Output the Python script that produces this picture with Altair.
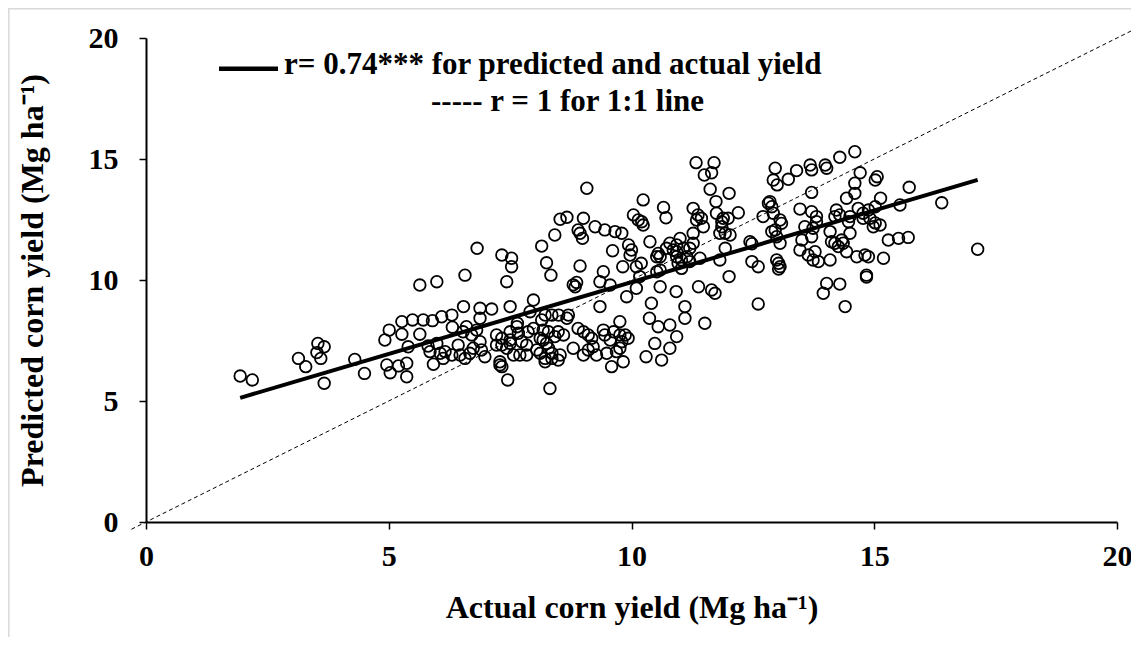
import altair as alt
import pandas as pd

# (actual, predicted) corn yield pairs, Mg/ha, grouped by actual-yield range
band_a = [(1.94, 6.03), (2.19, 5.87), (3.14, 6.76), (3.29, 6.42), (3.54, 7.38), (3.67, 7.24),
          (3.52, 7.00), (3.60, 6.76), (3.67, 5.73), (4.30, 6.72), (4.50, 6.14), (4.92, 7.52),
          (4.96, 6.49)]
band_b = [(5.01, 7.93), (5.03, 6.17), (5.37, 6.56), (5.37, 6.00), (5.20, 6.45), (5.27, 8.28),
          (5.27, 7.76), (5.49, 8.35), (5.64, 7.76), (5.71, 8.35), (5.90, 8.32), (5.64, 9.79),
          (5.99, 9.93), (5.40, 7.24), (5.81, 7.27), (5.92, 6.52), (5.99, 7.38), (5.85, 7.04)]
band_c = [(6.09, 8.48), (6.06, 6.97), (6.30, 8.55), (6.31, 8.05), (6.30, 6.90), (6.57, 10.20),
          (6.54, 8.90), (6.88, 8.83), (6.88, 8.42), (6.60, 8.07), (6.53, 7.86), (6.71, 7.73),
          (6.81, 7.93), (6.16, 7.04), (6.12, 6.76), (6.43, 7.31), (6.47, 6.90), (6.57, 6.76),
          (6.67, 6.97), (6.74, 7.18), (6.88, 7.45), (6.91, 7.11), (6.98, 6.83), (6.82, 11.31)]
band_d = [(7.12, 8.80), (7.33, 11.03), (7.53, 10.90), (7.53, 10.55), (7.43, 9.93), (7.50, 8.90),
          (7.91, 8.69), (7.65, 8.21), (7.45, 5.87), (7.29, 6.49), (7.29, 6.62), (7.22, 7.73),
          (7.33, 7.59), (7.50, 7.86), (7.50, 7.52), (7.64, 8.07), (7.67, 7.80), (7.87, 7.86),
          (7.98, 8.00), (7.22, 7.31), (7.33, 6.42), (7.33, 7.31), (7.43, 7.18), (7.50, 7.38),
          (7.57, 6.90), (7.70, 6.90), (7.84, 6.90), (7.84, 7.31), (7.74, 7.45), (7.98, 9.17)]
band_e = [(8.42, 11.86), (8.15, 11.40), (8.25, 10.71), (8.34, 10.20), (8.36, 8.55), (8.50, 8.55),
          (8.70, 8.55), (8.67, 8.42), (8.15, 8.35), (8.22, 8.55), (8.32, 5.52), (8.53, 12.51),
          (8.67, 12.59), (8.05, 7.11), (8.12, 6.97), (8.22, 6.76), (8.25, 7.38), (8.18, 7.52),
          (8.12, 7.59), (8.18, 7.93), (8.49, 7.86), (8.42, 7.66), (8.60, 7.73), (8.29, 7.86),
          (8.90, 8.00), (8.29, 7.18), (8.36, 6.97), (8.53, 6.90), (8.36, 6.76), (8.49, 6.69),
          (8.22, 6.62), (8.80, 7.18), (8.94, 11.93), (8.90, 12.07), (8.99, 11.72), (8.94, 10.58),
          (8.87, 9.90), (8.84, 9.72), (8.80, 9.80)]
band_f = [(9.08, 13.79), (9.01, 12.55), (9.25, 12.20), (9.45, 12.07), (9.66, 12.00), (9.80, 11.93),
          (9.42, 10.34), (9.35, 9.93), (9.56, 9.79), (9.61, 11.21), (9.94, 11.45), (10.00, 11.24),
          (9.97, 11.03), (9.82, 10.55), (9.90, 9.31), (9.35, 8.90), (9.76, 8.28), (9.59, 6.42),
          (9.83, 6.62), (9.11, 7.73), (9.18, 7.59), (9.42, 7.93), (9.45, 7.73), (9.56, 7.52),
          (9.63, 7.86), (9.76, 7.73), (9.87, 7.73), (9.93, 7.59), (9.80, 7.45), (9.76, 7.18),
          (9.69, 7.04), (9.01, 6.90), (9.11, 7.11), (9.21, 7.24), (9.28, 6.90), (9.49, 6.97),
          (9.01, 7.86)]
band_g = [(10.24, 13.31), (10.66, 13.00), (10.71, 12.57), (10.04, 12.69), (10.14, 12.48),
          (10.21, 12.41), (10.24, 12.27), (10.38, 11.58), (10.10, 10.55), (10.17, 10.14),
          (10.10, 9.66), (10.20, 10.69), (10.52, 10.96), (10.52, 10.34), (10.59, 9.72),
          (10.86, 11.24), (10.93, 10.96), (10.96, 10.69), (10.92, 9.52), (10.41, 9.04),
          (10.37, 8.42), (10.55, 8.07), (10.79, 8.14), (10.93, 7.66), (10.48, 7.38),
          (10.79, 7.18), (10.30, 6.83), (10.62, 6.69), (10.72, 11.31), (10.59, 10.96),
          (10.59, 10.41), (10.79, 11.52), (10.93, 11.17), (10.55, 11.10), (10.93, 11.45)]
band_h = [(11.33, 14.85), (11.70, 14.85), (11.50, 14.34), (11.65, 14.43), (11.62, 13.75),
          (11.74, 13.24), (11.27, 12.96), (11.37, 12.69), (11.44, 12.55), (11.48, 12.20),
          (11.75, 12.76), (11.89, 12.55), (11.99, 12.55), (11.86, 12.20), (11.93, 11.93),
          (12.03, 11.86), (11.27, 11.93), (11.27, 11.52), (11.00, 11.72), (11.03, 10.83),
          (11.20, 10.76), (11.41, 10.90), (11.10, 8.90), (11.10, 8.42), (11.51, 8.21),
          (11.38, 9.72), (11.65, 9.59), (11.72, 9.45), (11.82, 10.83), (11.93, 11.31),
          (12.01, 13.58), (12.01, 10.14), (11.07, 11.31), (11.20, 11.31), (11.14, 10.96),
          (11.03, 10.48), (11.34, 12.48), (11.86, 12.41), (11.82, 11.93)]
band_i = [(12.20, 12.78), (12.44, 11.58), (12.48, 11.50), (12.48, 10.76), (12.61, 10.55),
          (12.61, 9.01), (12.71, 12.62), (12.85, 13.24), (12.89, 13.03), (12.96, 14.62),
          (12.92, 14.13), (13.00, 13.93), (13.06, 12.48), (13.09, 12.34), (12.99, 11.79),
          (12.96, 12.07), (13.06, 11.52), (13.03, 10.69), (13.06, 10.55), (13.03, 10.45),
          (12.89, 12.00), (12.99, 10.83), (12.82, 13.17), (12.92, 12.76)]
band_j = [(13.23, 14.16), (13.40, 14.52), (13.68, 14.75), (13.71, 14.55), (13.99, 14.75),
          (14.02, 14.62), (13.71, 13.62), (13.47, 12.93), (13.71, 12.82), (13.81, 12.62),
          (13.81, 12.41), (13.57, 12.20), (13.74, 12.14), (13.71, 11.79), (13.51, 11.65),
          (13.47, 11.24), (13.64, 11.03), (13.78, 11.17), (13.74, 10.83), (13.85, 10.76),
          (13.95, 9.45), (14.02, 9.86), (14.29, 9.83)]
band_k = [(14.09, 10.83), (14.09, 12.00), (14.12, 11.58), (14.19, 11.52), (14.33, 11.65),
          (14.36, 11.52), (14.26, 11.38), (14.22, 12.89), (14.29, 12.69), (14.19, 12.62),
          (14.50, 12.62), (14.67, 12.96), (14.77, 12.76), (14.88, 12.89), (14.77, 12.55),
          (14.91, 12.55), (14.50, 11.93), (14.43, 11.17), (14.64, 10.96), (14.81, 11.03),
          (14.88, 10.96), (14.43, 13.38), (14.60, 13.58), (14.29, 15.07), (14.60, 15.30),
          (14.71, 14.43), (14.60, 14.00), (14.40, 8.90), (14.84, 10.20), (14.84, 10.12),
          (14.47, 12.41), (14.98, 12.20), (15.12, 12.27)]
band_l = [(15.02, 14.13), (15.06, 14.27), (15.13, 13.38), (15.02, 13.03), (15.53, 13.10),
          (15.02, 12.36), (15.19, 10.90), (15.29, 11.65), (15.50, 11.72), (15.70, 11.76),
          (15.72, 13.83), (16.39, 13.19), (17.13, 11.27)]

one_to_one = [-0.3, 20.7]
axis_ticks = [0, 5, 10, 15, 20]
legend_text = ["r= 0.74*** for predicted and actual yield", "-----  r = 1 for 1:1 line"]
x_title = "Actual corn yield (Mg ha\u207b\u00b9)"
y_title = "Predicted corn yield (Mg ha\u207b\u00b9)"

FONT = "Liberation Serif"
W, H = 971, 484

pairs = band_a + band_b + band_c + band_d + band_e + band_f + band_g + band_h + band_i + band_j + band_k + band_l
df = pd.DataFrame(pairs, columns=["actual", "predicted"])
line_df = pd.DataFrame({"actual": one_to_one, "predicted": one_to_one})

xs = alt.Scale(domain=[0, 20], nice=False, zero=False)
ys = alt.Scale(domain=[0, 20], nice=False, zero=False)

x_axis = alt.Axis(values=axis_ticks, grid=False, title=x_title, labelFlush=False, labelOverlap=False,
                  domainColor="black", domainWidth=2, tickColor="black", tickWidth=1.5, tickSize=7,
                  labelFont=FONT, labelFontSize=30, labelFontWeight="bold", labelColor="black",
                  labelPadding=12, titleFont=FONT, titleFontSize=32, titleFontWeight="bold",
                  titleColor="black", titleBaseline="alphabetic", titleY=95)
y_axis = alt.Axis(values=axis_ticks, grid=False, title=y_title, labelFlush=False, labelOverlap=False,
                  domainColor="black", domainWidth=2, tickColor="black", tickWidth=1.5, tickSize=7,
                  labelFont=FONT, labelFontSize=30, labelFontWeight="bold", labelColor="black",
                  labelPadding=21, titleFont=FONT, titleFontSize=32, titleFontWeight="bold",
                  titleColor="black", titleBaseline="alphabetic", titleX=-104, titleY=H / 2,
                  titleAngle=270, titleAlign="center")

points = alt.Chart(df).mark_point(shape="circle", filled=False, color="black", size=135,
                                  strokeWidth=1.8, opacity=1).encode(
    x=alt.X("actual:Q", scale=xs, axis=x_axis),
    y=alt.Y("predicted:Q", scale=ys, axis=y_axis),
)

fit = alt.Chart(df).transform_regression("actual", "predicted").mark_line(
    color="black", strokeWidth=4).encode(
    x=alt.X("actual:Q", scale=xs), y=alt.Y("predicted:Q", scale=ys))

diag = alt.Chart(line_df).mark_line(color="black", strokeWidth=1, strokeDash=[4, 3], clip=False).encode(
    x=alt.X("actual:Q", scale=xs), y=alt.Y("predicted:Q", scale=ys))

leg_df = pd.DataFrame({"label": legend_text})
leg1 = alt.Chart(leg_df.iloc[[0]]).mark_text(font=FONT, fontSize=31, fontWeight="bold", color="black",
                                             align="left", baseline="alphabetic").encode(
    text="label:N", x=alt.value(138), y=alt.value(36))
leg2 = alt.Chart(leg_df.iloc[[1]]).mark_text(font=FONT, fontSize=31, fontWeight="bold", color="black",
                                             align="left", baseline="alphabetic").encode(
    text="label:N", x=alt.value(285), y=alt.value(73))
leg_bar = alt.Chart(leg_df.iloc[[0]]).mark_rule(color="black", strokeWidth=4.5).encode(
    x=alt.value(73), x2=alt.value(132), y=alt.value(30.7))

border_left = alt.Chart(leg_df.iloc[[0]]).mark_rule(color="#d9d9d9", strokeWidth=1.5).encode(
    x=alt.value(-137.2), y=alt.value(-30), y2=alt.value(H + 115))
border_top = alt.Chart(leg_df.iloc[[0]]).mark_rule(color="#d9d9d9", strokeWidth=1.5).encode(
    x=alt.value(-138), x2=alt.value(W + 14), y=alt.value(-29.2))

chart = alt.layer(border_left, border_top, diag, points, fit, leg_bar, leg1, leg2).properties(
    width=W, height=H,
    autosize=alt.AutoSizeParams(type="none"),
    padding={"left": 138, "top": 30, "right": 14, "bottom": 115},
    background="white",
).configure_view(stroke=None)

chart.save("out.html", embed_options={"renderer": "svg", "actions": False})
